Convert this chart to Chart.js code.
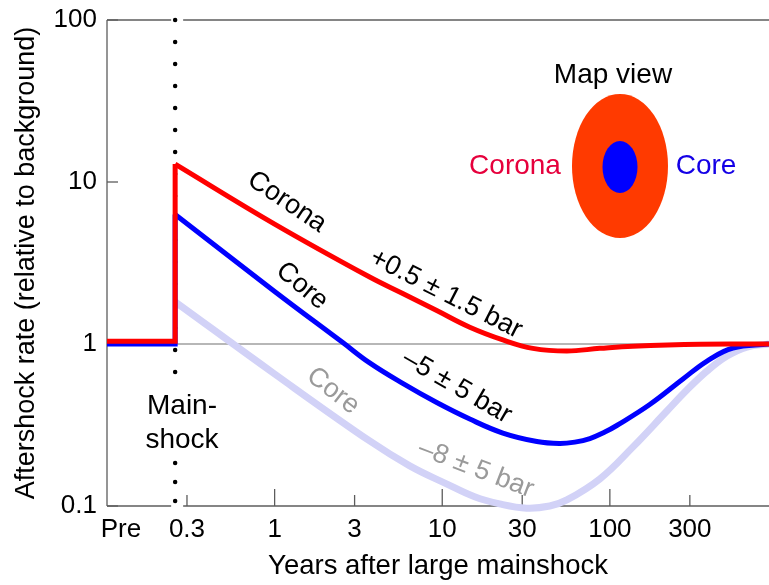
<!DOCTYPE html>
<html><head><meta charset="utf-8">
<script src="https://cdn.jsdelivr.net/npm/chart.js@4.4.1/dist/chart.umd.min.js"></script>
<style>html,body{margin:0;padding:0;background:#fff;overflow:hidden}canvas{display:block}</style>
</head><body>
<canvas id="c" width="769" height="585"></canvas>
<script>
// ---------- data ----------
const mainshockYear = 0.255;

const stepYears      = [0.1, mainshockYear, mainshockYear];
const coronaStepRate = [1.04, 1.04, 12.9];
const coreStepRate   = [1.0, 1.0, 6.3];

const coronaYears = [mainshockYear, 1, 3.69, 5.81, 9.27, 14.6, 23, 34.7, 55.4, 87.1, 137, 347, 890];
const coronaRate  = [12.9, 5.5, 2.59, 2.05, 1.61, 1.27, 1.06, 0.94, 0.905, 0.94, 0.97, 0.998, 1.0];

const coreYears = [mainshockYear, 1, 2.55, 3.69, 5.81, 9.27, 14.6, 23, 36.7, 50, 61.8, 76, 93.3, 110, 173, 273, 380, 542, 890];
const coreRate  = [6.3, 2.11, 1.02, 0.764, 0.571, 0.435, 0.344, 0.282, 0.25, 0.243, 0.248, 0.261, 0.286, 0.314, 0.423, 0.608, 0.785, 0.945, 1.0];

const deepCoreYears = [mainshockYear, 1, 3.69, 6.4, 10.6, 15.6, 22, 31.9, 43.8, 55.4, 87.1, 137, 219, 288, 380, 500, 658, 890];
const deepCoreRate  = [1.82, 0.653, 0.252, 0.177, 0.137, 0.114, 0.103, 0.097, 0.1, 0.109, 0.147, 0.231, 0.386, 0.52, 0.681, 0.843, 0.958, 1.0];

const xTickValues = [0.121, 0.3, 1, 3, 10, 30, 100, 300];
const xTickLabels = ['Pre', '0.3', '1', '3', '10', '30', '100', '300'];
const yTickValues = [0.1, 1, 10, 100];
const yTickLabels = ['0.1', '1', '10', '100'];

// ---------- helpers ----------
const FONT = '"Liberation Sans", Arial, Helvetica, sans-serif';
Chart.defaults.font.family = FONT;
const pts = (xs, ys) => xs.map((v, i) => ({x: v, y: ys[i]}));

function rtext(ctx, s, x, y, deg, color, size) {
  ctx.save();
  ctx.translate(x, y);
  ctx.rotate(deg * Math.PI / 180);
  ctx.fillStyle = color;
  ctx.font = size + 'px ' + FONT;
  ctx.textAlign = 'center';
  ctx.textBaseline = 'middle';
  ctx.fillText(s, 0, 0);
  ctx.restore();
}

const frame = {
  id: 'frame',
  beforeDatasetsDraw(chart) {
    const {ctx, chartArea: a, scales: {x, y}} = chart;
    const mx = x.getPixelForValue(mainshockYear);
    const L = (x1, y1, x2, y2) => { ctx.beginPath(); ctx.moveTo(x1, y1); ctx.lineTo(x2, y2); ctx.stroke(); };
    ctx.save();
    ctx.strokeStyle = '#5c5c5c';
    ctx.lineWidth = 1.3;
    L(a.left, a.top, a.left, a.bottom);
    [a.top, a.bottom].forEach(yy => { L(a.left, yy, mx - 4, yy); L(mx + 8, yy, a.right + 2, yy); });
    // reference line at rate 1
    ctx.strokeStyle = '#707070';
    ctx.lineWidth = 1.2;
    const y1 = y.getPixelForValue(1);
    L(a.left, y1, a.right, y1);
    // inward ticks
    ctx.strokeStyle = '#5c5c5c';
    ctx.lineWidth = 1.3;
    xTickValues.forEach((v, i) => {
      if (i === 0) return;
      const px = x.getPixelForValue(v);
      const len = Math.abs(Math.log10(v) - Math.round(Math.log10(v))) < 1e-6 ? 17 : 11;
      L(px, a.bottom, px, a.bottom - len);
    });
    yTickValues.forEach(v => { const py = y.getPixelForValue(v); L(a.left, py, a.left + 11, py); });
    // dotted mainshock line
    ctx.strokeStyle = '#000';
    ctx.lineCap = 'round';
    ctx.lineWidth = 4.5;
    ctx.setLineDash([0, 22]);
    L(mx, a.top, mx, 388);
    ctx.setLineDash([0, 19]);
    L(mx, 463, mx, a.bottom + 1);
    ctx.restore();
  },
  afterDatasetsDraw(chart) {
    const {ctx} = chart;
    const S = 27;
    rtext(ctx, 'Main-', 182, 406, 0, '#000', 28);
    rtext(ctx, 'shock', 182, 440, 0, '#000', 28);
    rtext(ctx, 'Corona', 287, 202, 34, '#000', S);
    rtext(ctx, '+0.5 \u00b1 1.5 bar', 446, 294, 27, '#000', S);
    rtext(ctx, 'Core', 302, 286, 40, '#000', S);
    rtext(ctx, '\u20135 \u00b1 5 bar', 457, 387, 30, '#000', S);
    rtext(ctx, 'Core', 333, 391, 38, '#9a9a9a', S);
    rtext(ctx, '\u20138 \u00b1 5 bar', 476, 469, 21, '#9a9a9a', S);
    // map view inset
    ctx.save();
    ctx.fillStyle = '#ff3a00';
    ctx.beginPath(); ctx.ellipse(620, 166, 48, 72, 0, 0, Math.PI * 2); ctx.fill();
    ctx.fillStyle = '#0000ff';
    ctx.beginPath(); ctx.ellipse(620, 167, 17.5, 26, 0, 0, Math.PI * 2); ctx.fill();
    ctx.restore();
    rtext(ctx, 'Map view', 613, 75, 0, '#000', 28);
    rtext(ctx, 'Corona', 515, 166, 0, '#e6003c', 28);
    rtext(ctx, 'Core', 706, 166, 0, '#1400e6', 28);
  }
};

const base = {showLine: true, pointRadius: 0, pointHoverRadius: 0, borderCapStyle: 'butt', clip: {left: 2, top: 5, right: 5, bottom: 10}};

new Chart(document.getElementById('c'), {
  type: 'scatter',
  data: {
    datasets: [
      Object.assign({}, base, {label: 'Corona step', data: pts(stepYears, coronaStepRate), borderColor: '#ff0000', borderWidth: 5, tension: 0, borderJoinStyle: 'miter', order: 1}),
      Object.assign({}, base, {label: 'Corona', data: pts(coronaYears, coronaRate), borderColor: '#ff0000', borderWidth: 5, tension: 0.4, order: 1}),
      Object.assign({}, base, {label: 'Core step', data: pts(stepYears, coreStepRate), borderColor: '#0000ff', borderWidth: 5, tension: 0, borderJoinStyle: 'miter', order: 2}),
      Object.assign({}, base, {label: 'Core', data: pts(coreYears, coreRate), borderColor: '#0000ff', borderWidth: 5, tension: 0.4, order: 2}),
      Object.assign({}, base, {label: 'Core (-8 bar)', data: pts(deepCoreYears, deepCoreRate), borderColor: '#d2d2f7', borderWidth: 7, tension: 0.4, order: 3})
    ]
  },
  options: {
    responsive: false,
    animation: false,
    devicePixelRatio: 1,
    layout: {padding: {top: 20, right: 0, left: 0, bottom: 0}},
    plugins: {legend: {display: false}, tooltip: {enabled: false}},
    scales: {
      x: {
        type: 'logarithmic', min: 0.1, max: 890,
        grid: {display: false, drawTicks: false}, border: {display: false},
        afterBuildTicks: s => { s.ticks = xTickValues.map(v => ({value: v})); },
        afterFit: s => { s.height = 79; s.paddingLeft = 0; s.paddingRight = 0; },
        ticks: {autoSkip: false, maxRotation: 0, color: '#000', padding: 8, font: {size: 26},
                callback: (v, i) => xTickLabels[i]},
        title: {display: true, text: 'Years after large mainshock', color: '#000', font: {size: 27.5}, padding: {top: 0, bottom: 2}}
      },
      y: {
        type: 'logarithmic', min: 0.1, max: 100,
        grid: {display: false, drawTicks: false}, border: {display: false},
        afterBuildTicks: s => { s.ticks = yTickValues.map(v => ({value: v})); },
        afterFit: s => { s.width = 107; s.paddingTop = 0; s.paddingBottom = 0; },
        ticks: {autoSkip: false, color: '#000', padding: 10, font: {size: 26},
                callback: (v, i) => yTickLabels[i]},
        title: {display: true, text: 'Aftershock rate (relative to background)', color: '#000', font: {size: 27}, padding: {top: 10, bottom: 0}}
      }
    }
  },
  plugins: [frame]
});
</script>
</body></html>
